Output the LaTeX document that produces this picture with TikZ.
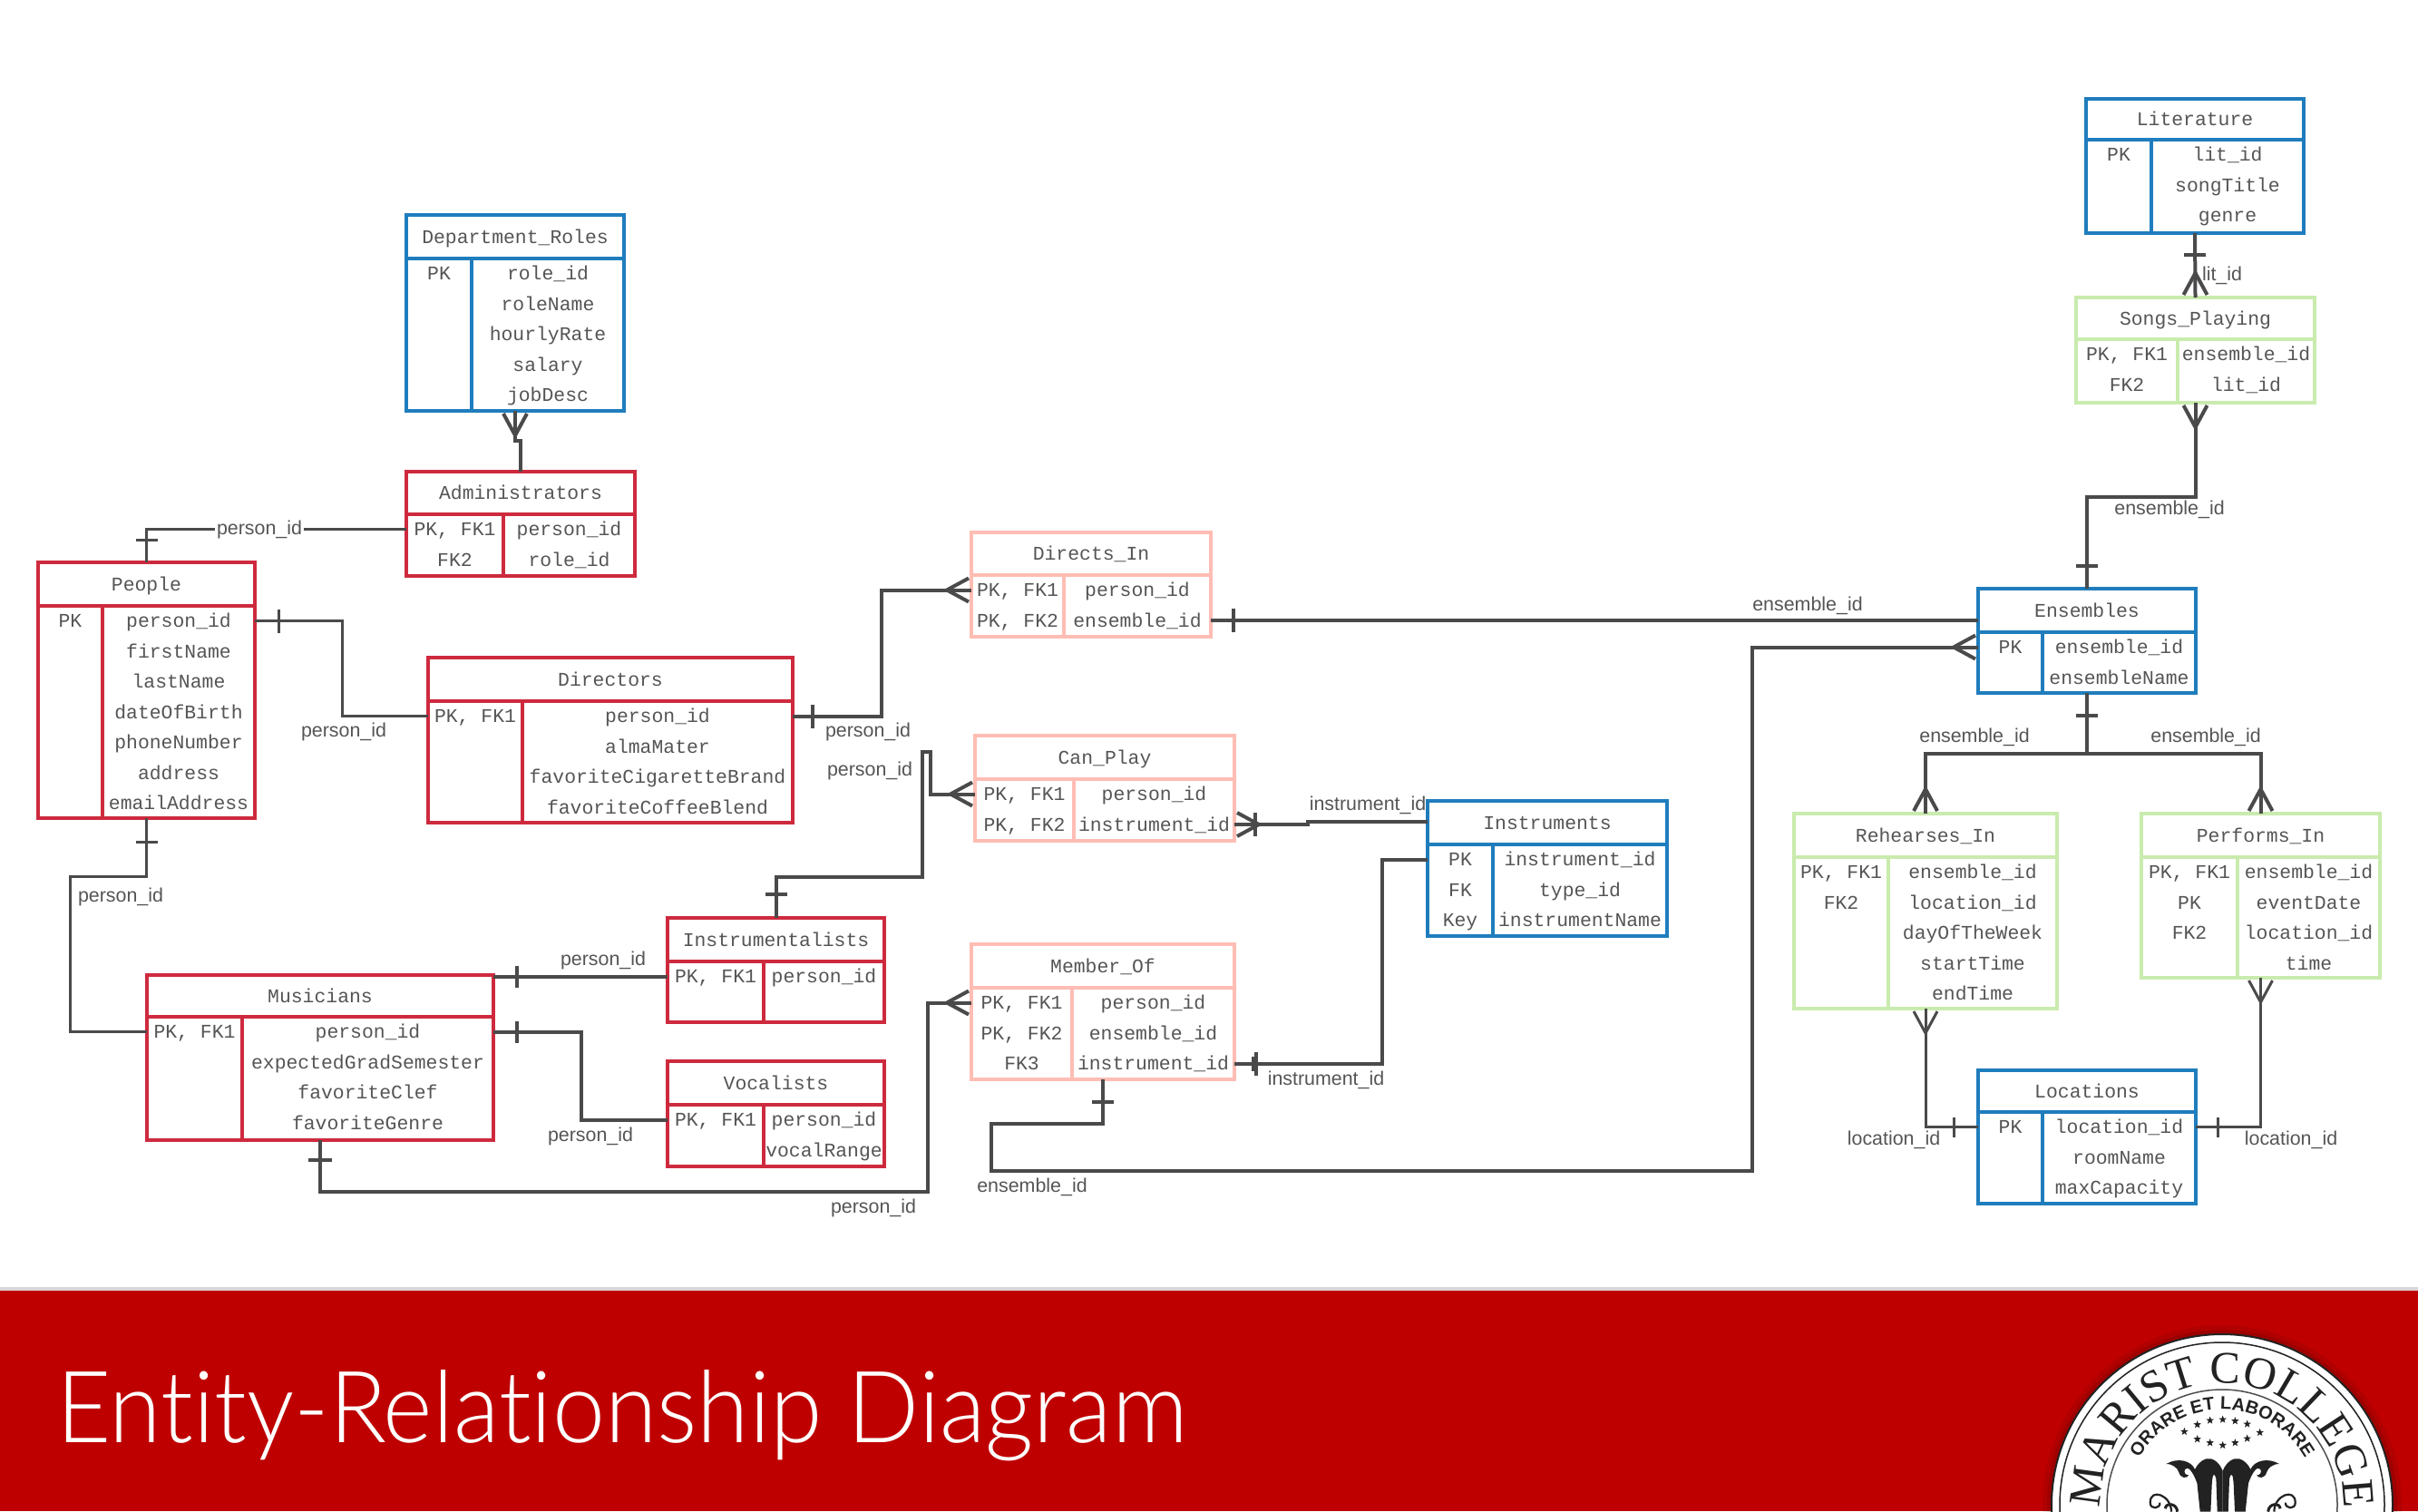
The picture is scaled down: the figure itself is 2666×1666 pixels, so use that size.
\documentclass[tikz,border=0pt]{standalone}
\usepackage{fontspec}
\usetikzlibrary{decorations.text,shapes.geometric}
\newfontfamily\monof{Liberation Mono}
\newfontfamily\sanf{Liberation Sans}
\newfontfamily\titlef[Ligatures=NoCommon]{Lato Light}
\newfontfamily\logoserif{Liberation Serif}
\definecolor{cblue}{HTML}{1F7DBD}
\definecolor{cred}{HTML}{CE2A3E}
\definecolor{cpink}{HTML}{FFBDB4}
\definecolor{cgreen}{HTML}{C9EBAE}
\definecolor{cline}{HTML}{4A4A4A}
\definecolor{ctext}{HTML}{555555}
\definecolor{cband}{HTML}{BF0000}
\definecolor{cedge}{HTML}{D9D5D8}
\definecolor{cink}{HTML}{222222}
\tikzset{
 tblbox/.style={line width=4pt,fill=white,inner sep=0pt,outer sep=0pt,anchor=north west},
 cellt/.style={font=\monof\fontsize{21.4}{24}\selectfont,text=ctext,inner sep=0pt,outer sep=0pt,text height=17pt,text depth=3pt,anchor=center},
 lab/.style={font=\sanf\fontsize{21.4}{24}\selectfont,text=ctext,inner sep=2pt,yshift=-3pt},
 conn/.style={draw=cline,line width=4pt},
 thinconn/.style={draw=cline,line width=3pt},
}
\def\ergeom#1/#2/#3/#4/#5/#6\relax{\def\xa{#1}\def\ya{#2}\def\xb{#3}\def\yb{#4}\def\xd{#5}\def\yl{#6}}
\newcommand\ertable[5]{%
 \ergeom#3\relax
 \pgfmathsetmacro\tw{\xb-\xa}\pgfmathsetmacro\th{\yb-\ya}%
 \pgfmathsetmacro\xl{(\xa+\xd)/2}\pgfmathsetmacro\xr{(\xd+\xb)/2}%
 \pgfmathsetmacro\xm{(\xa+\xb)/2}\pgfmathsetmacro\ym{(\ya+\yl)/2}%
 \node[tblbox,draw=#2,minimum width=\tw pt,minimum height=\th pt] (#1) at (\xa,\ya) {};
 \draw[#2,line width=4pt] (\xa,\yl) -- (\xb,\yl) (\xd,\yl) -- (\xd,\yb);
 \node[cellt] (#1-t) at (\xm,\ym) {#4};
 \foreach \lc/\rc [count=\i] in {#5}{%
  \pgfmathsetmacro\yy{\yl+16.5+33.5*(\i-1)}%
  \node[cellt] (#1-l\i) at (\xl,\yy) {\lc};
  \node[cellt] (#1-r\i) at (\xr,\yy) {\rc};
 }%
}
\newcommand\crowfoot[3][conn]{\draw[#1,shift={#2},rotate=#3] (3,-13) -- (27,0) -- (3,13);}
\newcommand\barmark[5][conn]{\draw[#1,shift={#2},rotate=#3] (#4,-#5) -- (#4,#5);}
\begin{document}
\begin{tikzpicture}[x=1pt,y=-1pt]
\useasboundingbox (0,0) rectangle (2666,1666);
\fill[white] (0,0) rectangle (2666,1666);
% band
\fill[cedge] (0,1419) rectangle (2666,1423);
\fill[cband] (0,1423) rectangle (2666,1666);
\node[anchor=base west,inner sep=0pt,text=white] (title) at (62,1590) {\resizebox{1246pt}{80pt}{\titlef Entity-Relationship Diagram}};
% seal
\coordinate (seal) at (2450,1659);
\begin{scope}
\clip (0,0) rectangle (2666,1666);
\fill[black,opacity=.07] (seal) circle[radius=198pt];
\fill[black,opacity=.10] (seal) circle[radius=193pt];
\draw[fill=white,draw=cink,line width=2pt] (seal) circle[radius=188pt];
\draw[cink,line width=1.5pt] (seal) circle[radius=179pt];
\draw[cink!80,line width=1.5pt] (seal) circle[radius=127pt];
\path[decorate,decoration={text along path,text align=center,text={|\logoserif\fontsize{50}{50}\selectfont\color{cink}|MARIST COLLEGE}}]
 (seal) ++(-134pt,0) arc[start angle=180,end angle=0,radius=134pt];
\path[decorate,decoration={text along path,text align=center,text={|\sanf\bfseries\fontsize{20}{20}\selectfont\color{cink}|ORARE ET LABORARE}}]
 (seal) ++(-105pt,0) arc[start angle=180,end angle=0,radius=105pt];
\foreach \zx/\zy [count=\k] in {625/415,668/392,710/378,752/375,793/380,833/390,875/418,668/440,710/452,752/460,793/452,833/438}{
 \node[star,star points=5,star point ratio=2.4,fill=cink,inner sep=0pt,minimum size=9pt] (st\k) at (2200+\zx/3,1440+\zy/3) {};
}
\begin{scope}[shift={(2450.7,1440)},x=.3333pt,y=-.3333pt]
 \foreach \sx in {1,-1}{
 \begin{scope}[xscale=\sx]
  \fill[cink] (0,545) .. controls (-12,515) and (-35,500) .. (-55,505)
   .. controls (-72,510) and (-85,525) .. (-92,540)
   .. controls (-105,510) and (-150,500) .. (-187,522)
   .. controls (-165,522) and (-150,535) .. (-145,550)
   .. controls (-140,570) and (-118,572) .. (-112,558)
   .. controls (-122,562) and (-130,550) .. (-125,540)
   .. controls (-115,528) and (-100,545) .. (-85,585)
   -- (-75,680) -- (-40,680) -- (-36,590)
   .. controls (-34,560) and (-30,545) .. (-22,570)
   -- (-18,680) -- (0,680) -- cycle;
  \draw[cink,line width=3pt] (-150,680) .. controls (-152,650) and (-190,650) .. (-190,670);
  \draw[cink,line width=2.2pt] (-170,680) .. controls (-170,625) and (-240,600) .. (-240,650) .. controls (-240,675) and (-205,670) .. (-208,650);
 \end{scope}
 }
\end{scope}
\end{scope}
% tables
\ertable{department}{cblue}{448/237/688/453/520/285}{Department\_Roles}{PK/role\_id,{}/roleName,{}/hourlyRate,{}/salary,{}/jobDesc}
\ertable{administrators}{cred}{448/520/700/635/555/567}{Administrators}{{PK, FK1}/person\_id,FK2/role\_id}
\ertable{people}{cred}{42/620/281/902/113/668}{People}{PK/person\_id,{}/firstName,{}/lastName,{}/dateOfBirth,{}/phoneNumber,{}/address,{}/emailAddress}
\ertable{directors}{cred}{472/725/874/907/576/773}{Directors}{{PK, FK1}/person\_id,{}/almaMater,{}/favoriteCigaretteBrand,{}/favoriteCoffeeBlend}
\ertable{directsin}{cpink}{1071/587/1335/702/1173/634}{Directs\_In}{{PK, FK1}/person\_id,{PK, FK2}/ensemble\_id}
\ertable{canplay}{cpink}{1075/811/1361/927/1184/859}{Can\_Play}{{PK, FK1}/person\_id,{PK, FK2}/instrument\_id}
\ertable{memberof}{cpink}{1071/1041/1361/1190/1182/1089}{Member\_Of}{{PK, FK1}/person\_id,{PK, FK2}/ensemble\_id,FK3/instrument\_id}
\ertable{instrumentalists}{cred}{736/1012/975/1127/842/1060}{Instrumentalists}{{PK, FK1}/person\_id}
\ertable{vocalists}{cred}{736/1170/975/1286/842/1218}{Vocalists}{{PK, FK1}/person\_id,{}/vocalRange}
\ertable{instruments}{cblue}{1574/883/1838/1032/1646/931}{Instruments}{PK/instrument\_id,FK/type\_id,Key/instrumentName}
\ertable{musicians}{cred}{162/1075/544/1257/267/1121}{Musicians}{{PK, FK1}/person\_id,{}/expectedGradSemester,{}/favoriteClef,{}/favoriteGenre}
\ertable{literature}{cblue}{2300/109/2540/257/2372/154}{Literature}{PK/lit\_id,{}/songTitle,{}/genre}
\ertable{songs}{cgreen}{2289/328/2552/444/2401/374}{Songs\_Playing}{{PK, FK1}/ensemble\_id,FK2/lit\_id}
\ertable{ensembles}{cblue}{2181/649/2421/764/2252/697}{Ensembles}{PK/ensemble\_id,{}/ensembleName}
\ertable{rehearses}{cgreen}{1978/897/2268/1112/2082/945}{Rehearses\_In}{{PK, FK1}/ensemble\_id,FK2/location\_id,{}/dayOfTheWeek,{}/startTime,{}/endTime}
\ertable{performs}{cgreen}{2361/897/2624/1078/2467/945}{Performs\_In}{{PK, FK1}/ensemble\_id,PK/eventDate,FK2/location\_id,{}/time}
\ertable{locations}{cblue}{2181/1180/2421/1327/2252/1226}{Locations}{PK/location\_id,{}/roomName,{}/maxCapacity}
% connectors
\draw[conn] (administrators.north) -- ++(0,-34) -| (department.south);
\crowfoot{(department.south)}{-90}
\draw[thinconn] (administrators.west |- administrators-r1) -| (people.north);
\barmark[thinconn]{(people.north)}{90}{25}{12}
\node[lab,fill=white] (l1) at (286,581) {person\_id};
\draw[thinconn] (people.east |- people-r1) -- ++(96,0) |- (directors.west |- directors-r1);
\barmark[thinconn]{(people.east |- people-r1)}{0}{26}{13}
\node[lab] (l2) at (379,804) {person\_id};
\draw[thinconn] (people.south) -- ++(0,64) -- ++(-84.5,0) |- (musicians.west |- musicians-r1);
\barmark[thinconn]{(people.south)}{-90}{26}{12}
\node[lab] (l3) at (133,986) {person\_id};
\draw[conn] (directors.east |- directors-r1) -- ++(98,0) |- (directsin.west |- directsin-r1);
\barmark{(directors.east |- directors-r1)}{0}{22}{13}
\crowfoot{(directsin.west |- directsin-r1)}{180}
\node[lab] (l4) at (957,804) {person\_id};
\draw[conn] (directsin.east |- directsin-r2) -- (ensembles.west |- directsin-r2);
\barmark{(directsin.east |- directsin-r2)}{0}{25}{13}
\node[lab] (l5) at (1993,665) {ensemble\_id};
\draw[conn] (memberof.south) -- ++(0,49) -- ++(-123,0) -- ++(0,52) -- ++(838.5,0) |- (ensembles.west |- ensembles-r1);
\barmark{(memberof.south)}{-90}{25}{12}
\crowfoot{(ensembles.west |- ensembles-r1)}{180}
\node[lab] (l6) at (1138,1306) {ensemble\_id};
\draw[conn] (canplay.west |- canplay-r1) -- ++(-49,0) -- ++(0,-47) -- ++(-9,0) -- ++(0,138) -| (instrumentalists.north);
\crowfoot{(canplay.west |- canplay-r1)}{180}
\barmark{(instrumentalists.north)}{90}{26}{12}
\node[lab] (l7) at (959,847) {person\_id};
\coordinate (ijog) at (1442,906);
\draw[conn] (canplay.east |- canplay-r2) -| (ijog) -- (instruments.west |- ijog);
\crowfoot{(canplay.east |- canplay-r2)}{0}
\barmark{(canplay.east |- canplay-r2)}{0}{23}{13}
\node[lab] (l8) at (1508,885) {instrument\_id};
\draw[conn] (memberof.east |- memberof-r3) -- ++(163,0) |- (instruments.west |- instruments-r1);
\barmark{(memberof.east |- memberof-r3)}{0}{24}{13}
\barmark[thinconn]{(memberof.east |- memberof-r3)}{0}{20}{8}
\node[lab] (l9) at (1462,1188) {instrument\_id};
\draw[conn] (musicians.south) -- ++(0,57) -- ++(670,0) |- (memberof.west |- memberof-r1);
\barmark{(musicians.south)}{-90}{22}{13}
\crowfoot{(memberof.west |- memberof-r1)}{180}
\node[lab] (l10) at (963,1329) {person\_id};
\draw[conn] (musicians.east |- instrumentalists-r1) -- (instrumentalists.west |- instrumentalists-r1);
\barmark{(musicians.east |- instrumentalists-r1)}{0}{26}{12}
\node[lab] (l11) at (665,1056) {person\_id};
\draw[conn] (musicians.east |- musicians-r1) -- ++(97,0) |- (vocalists.west |- vocalists-r1);
\barmark{(musicians.east |- musicians-r1)}{0}{26}{12}
\node[lab] (l12) at (651,1250) {person\_id};
\draw[conn] (literature.south) -- (songs.north);
\barmark{(literature.south)}{-90}{24}{12}
\crowfoot{(songs.north)}{90}
\node[lab] (l13) at (2450,301) {lit\_id};
\draw[conn] (songs.south) -- ++(0,104) -| (ensembles.north);
\crowfoot{(songs.south)}{-90}
\barmark{(ensembles.north)}{90}{25}{12}
\node[lab] (l14) at (2392,559) {ensemble\_id};
\draw[conn] (ensembles.south) -- ++(0,66.5) -| (rehearses.north);
\draw[conn] (ensembles.south) -- ++(0,66.5) -| (performs.north);
\barmark{(ensembles.south)}{-90}{25}{12}
\crowfoot{(rehearses.north)}{90}
\crowfoot{(performs.north)}{90}
\node[lab] (l15) at (2177,809.5) {ensemble\_id};
\node[lab] (l16) at (2432,809.5) {ensemble\_id};
\draw[thinconn] (rehearses.south) |- (locations.west |- locations-r1);
\crowfoot[thinconn]{(rehearses.south)}{-90}
\barmark[thinconn]{(locations.west |- locations-r1)}{180}{27}{11}
\node[lab] (l17) at (2088,1254) {location\_id};
\draw[thinconn] (performs.south) |- (locations.east |- locations-r1);
\crowfoot[thinconn]{(performs.south)}{-90}
\barmark[thinconn]{(locations.east |- locations-r1)}{0}{24}{11}
\node[lab] (l18) at (2526,1254) {location\_id};
\end{tikzpicture}
\end{document}
